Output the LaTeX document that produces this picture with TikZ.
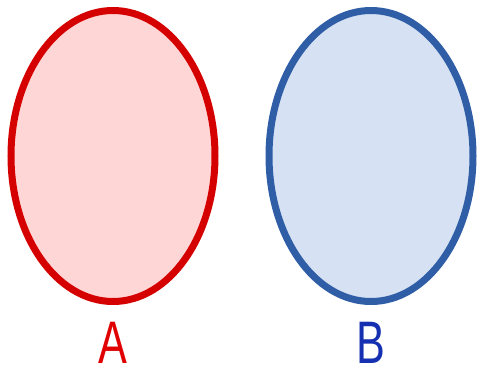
\documentclass[tikz,border=0pt]{standalone}
\usepackage{fontspec}
\setmainfont{Liberation Sans}
\usetikzlibrary{positioning,shapes.geometric}
\definecolor{redline}{HTML}{D50000}
\definecolor{redfill}{HTML}{FFD6D6}
\definecolor{redtext}{HTML}{E00000}
\definecolor{blueline}{HTML}{2F5DA6}
\definecolor{bluefill}{HTML}{D6E2F3}
\definecolor{bluetext}{HTML}{1530B0}
\tikzset{
  setbox/.style={ellipse,line width=7pt,inner sep=0pt,
                 minimum width=204pt,minimum height=291pt},
  redset/.style={setbox,draw=redline,fill=redfill},
  blueset/.style={setbox,draw=blueline,fill=bluefill},
  setlabel/.style={inner sep=0pt,transform shape,xscale=0.72,
                   font=\fontsize{60}{60}\selectfont}
}
\begin{document}
\begin{tikzpicture}[x=1pt,y=-1pt]
  \useasboundingbox (0,0) rectangle (477,375);
  \node[redset] (setA) at (113,156) {};
  \node[blueset] (setB) at (371,156) {};
  \node[setlabel,text=redtext,below=17pt of setA] (labA) {A};
  \node[setlabel,text=bluetext,below=17pt of setB] (labB) {B};
\end{tikzpicture}
\end{document}
